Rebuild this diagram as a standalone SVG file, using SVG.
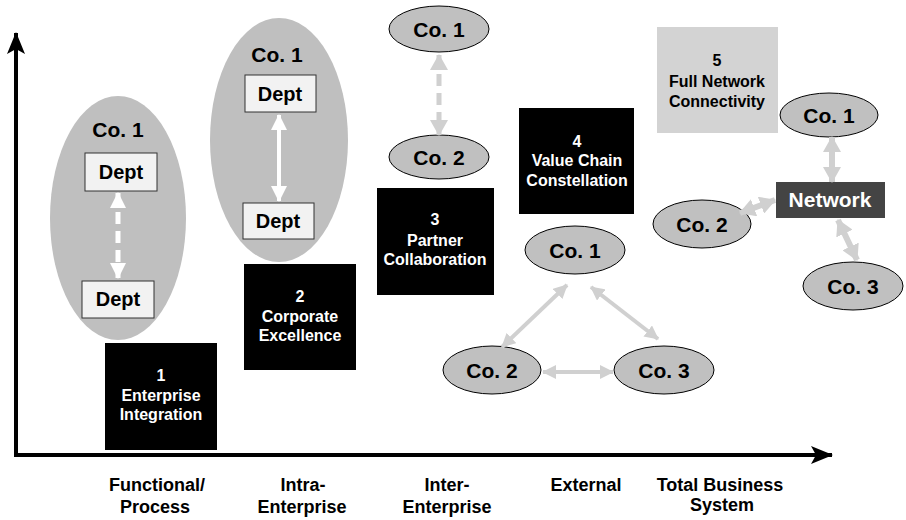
<svg xmlns="http://www.w3.org/2000/svg" width="906" height="520" viewBox="0 0 906 520">
  <style>
    text { font-family: "Liberation Sans", Arial, Helvetica, sans-serif; font-weight: bold; text-anchor: middle; }
    .co { font-size: 21px; fill: #000; }
    .dept { font-size: 20px; fill: #000; }
    .stage { font-size: 16px; fill: #fff; }
    .stage-lt { font-size: 16px; fill: #000; }
    .axis-label { font-size: 18px; fill: #000; }
    .big-ell { fill: #bfbfbf; }
    .small-ell { fill: #c0c0c0; stroke: #000; stroke-width: 1; }
    .dept-box { fill: #f2f2f2; stroke: #333; stroke-width: 1; }
    .stage-box { fill: #000; }
    .axis { stroke: #000; stroke-width: 4; fill: none; }
    .link-white { stroke: #fff; fill: none; }
    .link-gray { stroke: #d0d0d0; fill: none; }
  </style>
  <defs>
    <marker id="axisHead" viewBox="0 0 22 18" refX="21" refY="9" markerWidth="22" markerHeight="18" markerUnits="userSpaceOnUse" orient="auto">
      <path d="M0,0 L22,9 L0,18 L5,9 z" fill="#000"/>
    </marker>
    <marker id="whiteHead" viewBox="0 0 16 16" refX="15" refY="8" markerWidth="16" markerHeight="16" markerUnits="userSpaceOnUse" orient="auto-start-reverse">
      <path d="M0,0 L16,8 L0,16 z" fill="#fff"/>
    </marker>
    <marker id="grayHead" viewBox="0 0 14 14" refX="13" refY="7" markerWidth="14" markerHeight="14" markerUnits="userSpaceOnUse" orient="auto-start-reverse">
      <path d="M0,0 L14,7 L0,14 z" fill="#d0d0d0"/>
    </marker>
    <marker id="grayHeadBig" viewBox="0 0 16 18" refX="15" refY="9" markerWidth="16" markerHeight="18" markerUnits="userSpaceOnUse" orient="auto-start-reverse">
      <path d="M0,0 L16,9 L0,18 z" fill="#d0d0d0"/>
    </marker>
  </defs>

  <!-- axes -->
  <g id="axes">
    <line class="axis" x1="16" y1="457" x2="16" y2="33" marker-end="url(#axisHead)"/>
    <line class="axis" x1="14" y1="455" x2="832" y2="455" marker-end="url(#axisHead)"/>
  </g>

  <!-- stage 1: functional / process -->
  <g id="company-functional">
    <ellipse class="big-ell" cx="118" cy="218" rx="68" ry="122"/>
    <text class="co" x="118" y="137">Co. 1</text>
  </g>
  <g id="dept-functional-top">
    <rect class="dept-box" x="85" y="153" width="72" height="38"/>
    <text class="dept" x="121" y="179">Dept</text>
  </g>
  <g id="dept-functional-bottom">
    <rect class="dept-box" x="82" y="281" width="72" height="37"/>
    <text class="dept" x="118" y="306">Dept</text>
  </g>

  <!-- stage 2: intra-enterprise -->
  <g id="company-intra">
    <ellipse class="big-ell" cx="279" cy="140" rx="69" ry="122"/>
    <text class="co" x="277" y="62">Co. 1</text>
  </g>
  <g id="dept-intra-top">
    <rect class="dept-box" x="245" y="75" width="71" height="37"/>
    <text class="dept" x="280" y="101">Dept</text>
  </g>
  <g id="dept-intra-bottom">
    <rect class="dept-box" x="243" y="203" width="71" height="36"/>
    <text class="dept" x="278" y="228">Dept</text>
  </g>

  <!-- stage 3: inter-enterprise -->
  <g id="inter-co1">
    <ellipse class="small-ell" cx="439" cy="29" rx="50" ry="23"/>
    <text class="co" x="439" y="37">Co. 1</text>
  </g>
  <g id="inter-co2">
    <ellipse class="small-ell" cx="439" cy="157" rx="50" ry="22"/>
    <text class="co" x="439" y="165">Co. 2</text>
  </g>

  <!-- stage 4: external -->
  <g id="ext-co1">
    <ellipse class="small-ell" cx="575" cy="250" rx="50" ry="24"/>
    <text class="co" x="575" y="258">Co. 1</text>
  </g>
  <g id="ext-co2">
    <ellipse class="small-ell" cx="492" cy="370" rx="49" ry="24"/>
    <text class="co" x="492" y="378">Co. 2</text>
  </g>
  <g id="ext-co3">
    <ellipse class="small-ell" cx="664" cy="370" rx="50" ry="24"/>
    <text class="co" x="664" y="378">Co. 3</text>
  </g>

  <!-- stage 5: total business system -->
  <g id="net-co1">
    <ellipse class="small-ell" cx="829" cy="115" rx="49" ry="22"/>
    <text class="co" x="829" y="123">Co. 1</text>
  </g>
  <g id="net-co2">
    <ellipse class="small-ell" cx="702" cy="224" rx="49" ry="24"/>
    <text class="co" x="702" y="232">Co. 2</text>
  </g>
  <g id="net-co3">
    <ellipse class="small-ell" cx="853" cy="286" rx="50" ry="24"/>
    <text class="co" x="853" y="294">Co. 3</text>
  </g>
  <g id="network">
    <rect x="776" y="182" width="109" height="36" fill="#444"/>
    <text class="co" x="830" y="207" fill="#fff" style="fill:#fff">Network</text>
  </g>

  <!-- stage boxes -->
  <g id="stage-1">
    <rect class="stage-box" x="105" y="343" width="112" height="107"/>
    <text class="stage" x="161" y="381">1</text>
    <text class="stage" x="161" y="401">Enterprise</text>
    <text class="stage" x="161" y="420">Integration</text>
  </g>
  <g id="stage-2">
    <rect class="stage-box" x="244" y="264" width="112" height="106"/>
    <text class="stage" x="300" y="302">2</text>
    <text class="stage" x="300" y="322">Corporate</text>
    <text class="stage" x="300" y="341">Excellence</text>
  </g>
  <g id="stage-3">
    <rect class="stage-box" x="377" y="188" width="117" height="107"/>
    <text class="stage" x="435" y="225">3</text>
    <text class="stage" x="435" y="246">Partner</text>
    <text class="stage" x="435" y="265">Collaboration</text>
  </g>
  <g id="stage-4">
    <rect class="stage-box" x="519" y="108" width="115" height="106"/>
    <text class="stage" x="577" y="147">4</text>
    <text class="stage" x="577" y="166">Value Chain</text>
    <text class="stage" x="577" y="186">Constellation</text>
  </g>
  <g id="stage-5">
    <rect x="657" y="27" width="121" height="106" fill="#d3d3d3"/>
    <text class="stage-lt" x="717" y="66">5</text>
    <text class="stage-lt" x="717" y="87">Full Network</text>
    <text class="stage-lt" x="717" y="107">Connectivity</text>
  </g>

  <!-- connectors -->
  <g id="connectors">
    <line class="link-white" x1="118" y1="193" x2="118" y2="278" stroke-width="5" stroke-dasharray="12 7" marker-start="url(#whiteHead)" marker-end="url(#whiteHead)"/>
    <line class="link-white" x1="279" y1="115" x2="279" y2="201" stroke-width="4" marker-start="url(#whiteHead)" marker-end="url(#whiteHead)"/>
    <line class="link-gray" x1="439" y1="55" x2="439" y2="135" stroke-width="5" stroke-dasharray="12 7" marker-start="url(#grayHeadBig)" marker-end="url(#grayHeadBig)"/>
    <line class="link-gray" x1="567" y1="285" x2="502" y2="347" stroke-width="4" marker-start="url(#grayHead)" marker-end="url(#grayHead)"/>
    <line class="link-gray" x1="591" y1="287" x2="658" y2="339" stroke-width="4" marker-start="url(#grayHead)" marker-end="url(#grayHead)"/>
    <line class="link-gray" x1="543" y1="372" x2="613" y2="372" stroke-width="4" marker-start="url(#grayHead)" marker-end="url(#grayHead)"/>
    <line class="link-gray" x1="832" y1="137" x2="832" y2="182" stroke-width="6" marker-start="url(#grayHeadBig)" marker-end="url(#grayHeadBig)"/>
    <line class="link-gray" x1="740" y1="213" x2="775" y2="200" stroke-width="6" marker-start="url(#grayHeadBig)" marker-end="url(#grayHeadBig)"/>
    <line class="link-gray" x1="838" y1="220" x2="857" y2="260" stroke-width="6" marker-start="url(#grayHeadBig)" marker-end="url(#grayHeadBig)"/>
  </g>

  <!-- axis labels -->
  <g id="axis-labels">
    <text class="axis-label" x="157" y="491">Functional/</text>
    <text class="axis-label" x="155" y="513">Process</text>
    <text class="axis-label" x="303" y="491">Intra-</text>
    <text class="axis-label" x="302" y="513">Enterprise</text>
    <text class="axis-label" x="447" y="491">Inter-</text>
    <text class="axis-label" x="447" y="513">Enterprise</text>
    <text class="axis-label" x="586" y="491">External</text>
    <text class="axis-label" x="720" y="491">Total Business</text>
    <text class="axis-label" x="722" y="511">System</text>
  </g>
</svg>
